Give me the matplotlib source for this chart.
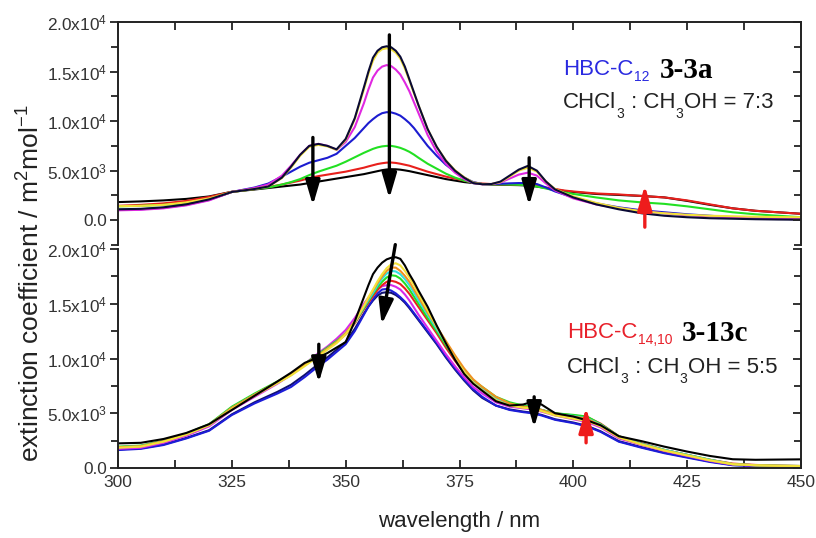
import matplotlib
matplotlib.use("Agg")
import matplotlib.pyplot as plt
from matplotlib.ticker import MultipleLocator, FuncFormatter
from matplotlib.text import Annotation

plt.rcParams['font.family'] = ['Liberation Sans', 'DejaVu Sans']
plt.rcParams['mathtext.fontset'] = 'custom'
plt.rcParams['mathtext.rm'] = 'Liberation Sans'
plt.rcParams['mathtext.it'] = 'Liberation Sans:italic'
plt.rcParams['mathtext.bf'] = 'Liberation Sans:bold'

# ---------------- top panel data (HBC-C12, 3-3a, CHCl3:CH3OH 7:3) ----------------
wl_top = [300, 305, 310, 315, 320, 325, 330, 333, 336, 338, 340, 342, 344, 346, 348, 350, 352,
          354, 355, 356, 357, 358, 359, 360, 361, 362, 363, 364, 365, 366,
          368, 370, 372, 374, 376, 378, 380, 382, 384, 386, 388, 390, 392, 394, 396, 398, 400,
          405, 410, 415, 420, 425, 430, 435, 440, 445, 450]
top_black_final = [1830, 1900, 2000, 2150, 2400, 2870, 3100, 3250, 3400, 3500, 3600, 3750, 3900, 4050, 4200, 4350, 4500,
                   4650, 4750, 4850, 4950, 5050, 5120, 5150, 5140, 5100, 5030, 4950, 4850, 4750,
                   4550, 4350, 4150, 4000, 3850, 3750, 3650, 3600, 3580, 3560, 3540, 3500, 3400, 3250, 3100, 2950, 2850,
                   2650, 2550, 2450, 2300, 1950, 1550, 1200, 950, 800, 650]
top_red = [1450, 1550, 1700, 1950, 2350, 2870, 3150, 3350, 3600, 3800, 4000, 4250, 4450, 4600, 4750, 4900, 5100,
           5300, 5430, 5550, 5670, 5750, 5810, 5820, 5780, 5700, 5600, 5500, 5350, 5200,
           4900, 4650, 4400, 4200, 4000, 3800, 3700, 3650, 3620, 3600, 3580, 3560, 3450, 3300, 3150, 3000, 2900,
           2700, 2600, 2450, 2300, 2000, 1600, 1200, 950, 800, 650]
top_green = [1400, 1450, 1550, 1700, 2100, 2850, 3150, 3300, 3600, 3850, 4150, 4550, 4900, 5200, 5500, 5900, 6350,
             6800, 7000, 7200, 7350, 7450, 7500, 7500, 7420, 7300, 7120, 6900, 6620, 6300,
             5700, 5200, 4700, 4300, 4000, 3780, 3650, 3630, 3620, 3600, 3580, 3550, 3400, 3200, 3000, 2800, 2650,
             2300, 2000, 1800, 1650, 1400, 1100, 800, 600, 450, 300]
top_blue = [1050, 1100, 1250, 1550, 2050, 2850, 3300, 3700, 4400, 4900, 5400, 5800, 6050, 6300, 6700, 7500, 8300,
            9300, 9800, 10200, 10550, 10800, 10900, 10880, 10750, 10550, 10200, 9800, 9300, 8700,
            7500, 6500, 5600, 4900, 4300, 3850, 3650, 3650, 3680, 3720, 3750, 3750, 3650, 3300, 2900, 2600, 2300,
            1700, 1300, 1000, 800, 600, 450, 300, 200, 150, 100]
top_magenta = [1000, 1050, 1200, 1500, 2000, 2850, 3250, 3600, 4500, 5500, 6600, 7500, 7700, 7500, 7100, 7900, 9400,
               11800, 13200, 14400, 15100, 15500, 15650, 15550, 15200, 14700, 13900, 13000, 11900, 10800,
               8600, 6900, 5700, 4800, 4150, 3750, 3630, 3650, 3800, 4200, 4600, 4800, 4500, 3700, 3000, 2600, 2200,
               1600, 1200, 900, 700, 500, 400, 300, 200, 150, 100]
top_yellow = [1420, 1450, 1550, 1800, 2200, 2850, 3150, 3400, 4250, 5300, 6500, 7400, 7600, 7450, 7100, 8100, 10200,
              13200, 14800, 16100, 16900, 17250, 17350, 17250, 16900, 16300, 15300, 14100, 12800, 11600,
              9200, 7400, 6050, 5050, 4350, 3800, 3650, 3650, 3850, 4400, 5000, 5300, 4900, 3900, 3150, 2750, 2400,
              1750, 1250, 900, 700, 550, 450, 400, 350, 320, 300]
top_black_initial = [1100, 1150, 1300, 1600, 2100, 2850, 3150, 3400, 4300, 5400, 6600, 7500, 7700, 7500, 7150, 8200, 10300,
                     13400, 15000, 16400, 17100, 17450, 17550, 17450, 17100, 16500, 15500, 14200, 12900, 11600,
                     9200, 7400, 6000, 5000, 4300, 3750, 3630, 3650, 3900, 4500, 5100, 5480, 5000, 3900, 3100, 2700, 2300,
                     1600, 1100, 700, 450, 300, 200, 150, 100, 70, 50]

# ---------------- bottom panel data (HBC-C14,10, 3-13c, CHCl3:CH3OH 5:5) ----------------
wl_bot = [300, 305, 310, 315, 320, 325, 330, 335, 338, 341, 344, 346, 348, 350, 352,
          354, 355, 356, 357, 358, 359, 360, 361, 362, 363, 364, 365, 366,
          368, 370, 372, 374, 376, 378, 380, 383, 386, 389, 391, 393, 396, 400, 403, 406, 410,
          415, 420, 425, 430, 435, 440, 445, 450]
bot_navy = [1700, 1800, 2150, 2750, 3450, 4900, 6000, 6950, 7600, 8500, 9500, 10100, 10800, 11500, 12700,
            14100, 14750, 15300, 15750, 16000, 16050, 16000, 15800, 15500, 15100, 14600, 14050, 13500,
            12400, 11300, 10100, 9000, 8000, 7100, 6400, 5700, 5350, 5150, 5050, 4850, 4450, 4150, 3850, 3350, 2450,
            1900, 1400, 1000, 600, 280, 200, 170, 160]
bot_blue = [1640, 1750, 2100, 2700, 3400, 4840, 5900, 6800, 7400, 8300, 9300, 9900, 10600, 11300, 12500,
            14000, 14750, 15400, 15950, 16300, 16350, 16200, 15950, 15600, 15200, 14700, 14150, 13600,
            12500, 11400, 10200, 9100, 8100, 7200, 6500, 5700, 5300, 5100, 5000, 4800, 4400, 4100, 3800, 3300, 2400,
            1850, 1350, 950, 550, 250, 180, 160, 150]
bot_magenta = [1750, 1850, 2300, 2950, 3800, 5300, 6500, 7700, 8500, 9500, 10500, 11100, 11800, 12600, 13700,
               15000, 15550, 16000, 16350, 16600, 16700, 16700, 16550, 16300, 15850, 15300, 14650, 14000,
               12800, 11600, 10400, 9300, 8300, 7400, 6800, 6000, 5600, 5450, 5350, 5150, 4800, 4450, 4200, 3700, 2700,
               2100, 1550, 1100, 650, 300, 220, 190, 170]
bot_red = [1900, 2000, 2450, 3100, 3950, 5500, 6700, 7850, 8550, 9450, 10300, 10900, 11500, 12200, 13200,
           14500, 15100, 15700, 16250, 16700, 17000, 17100, 17000, 16800, 16400, 15900, 15300, 14700,
           13500, 12300, 11000, 9800, 8700, 7800, 7200, 6300, 5800, 5600, 5500, 5300, 5000, 4800, 4650, 4050, 2900,
           2250, 1650, 1200, 750, 400, 280, 220, 180]
bot_green = [1950, 2050, 2500, 3150, 4000, 5600, 6800, 7900, 8600, 9500, 10400, 11000, 11600, 12300, 13300,
             14600, 15250, 15900, 16500, 17000, 17400, 17600, 17550, 17300, 16850, 16300, 15650, 15000,
             13700, 12500, 11200, 10000, 8900, 8000, 7400, 6500, 6000, 5700, 5550, 5300, 5000, 4850, 4700, 4000, 2900,
             2200, 1650, 1200, 750, 350, 250, 200, 180]
bot_cyan = [1900, 2000, 2450, 3100, 3950, 5500, 6700, 7800, 8500, 9400, 10300, 10900, 11500, 12300, 13300,
            14700, 15350, 16000, 16700, 17300, 17750, 18000, 17950, 17700, 17250, 16700, 16000, 15300,
            14000, 12700, 11400, 10100, 8900, 7900, 7200, 6300, 5800, 5600, 5500, 5300, 4950, 4750, 4550, 3950, 2850,
            2200, 1650, 1200, 750, 350, 250, 200, 180]
bot_orange = [1900, 2000, 2450, 3100, 3950, 5500, 6700, 7850, 8550, 9450, 10300, 10900, 11500, 12300, 13400,
              14800, 15500, 16200, 16900, 17500, 18000, 18300, 18300, 18000, 17550, 17000, 16300, 15600,
              14200, 12900, 11600, 10300, 9100, 8100, 7400, 6500, 5900, 5600, 5500, 5300, 4900, 4700, 4500, 3900, 2800,
              2150, 1600, 1150, 700, 350, 250, 200, 180]
bot_yellow = [1850, 1950, 2400, 3050, 3900, 5400, 6600, 7750, 8450, 9300, 10200, 10800, 11400, 12200, 13300,
              14800, 15600, 16300, 17050, 17700, 18250, 18600, 18700, 18500, 18000, 17400, 16700, 15900,
              14400, 12900, 11400, 10000, 8800, 7800, 7100, 6200, 5700, 5500, 5450, 5200, 4800, 4500, 4300, 3800, 2800,
              2150, 1600, 1150, 700, 350, 250, 200, 180]
bot_black = [2250, 2300, 2650, 3200, 4000, 5300, 6600, 7900, 8700, 9600, 10100, 10500, 11000, 11500, 13400,
             15600, 16700, 17700, 18300, 18750, 19050, 19200, 19250, 19100, 18500, 17700, 17000, 16200,
             14730, 13000, 11400, 9900, 8600, 7700, 7050, 6100, 5700, 5800, 6050, 5800, 5000, 4700, 4350, 3900, 2900,
             2450, 1950, 1500, 1100, 800, 750, 770, 790]

top_series = [
    (top_black_final, '#000000'),
    (top_red, '#e8201c'),
    (top_green, '#22e022'),
    (top_blue, '#1c1cd0'),
    (top_magenta, '#e028e0'),
    (top_yellow, '#f2e23a'),
    (top_black_initial, '#0a0a35'),
]
bot_series = [
    (bot_navy, '#101070'),
    (bot_blue, '#1c1cd8'),
    (bot_magenta, '#d828e8'),
    (bot_red, '#e8201c'),
    (bot_green, '#22e022'),
    (bot_cyan, '#30e0e0'),
    (bot_orange, '#f09020'),
    (bot_yellow, '#f2e23a'),
    (bot_black, '#000000'),
]

# arrows: (x_start, y_start, x_end, y_end, color)
top_arrows = [(342.8, 8350, 342.8, 1500, 'k'), (359.6, 18700, 359.6, 2200, 'k'),
              (390.3, 6300, 390.3, 1500, 'k'), (415.7, -700, 415.7, 3500, '#ee1c1c')]
bot_arrows = [(344.1, 11300, 344.1, 7800, 'k'), (360.9, 20400, 357.9, 13100, 'k'),
              (391.4, 6500, 391.4, 3700, 'k'), (402.8, 2300, 402.8, 5500, '#ee1c1c')]

W, H = 816, 538
fig = plt.figure(figsize=(W / 100, H / 100), dpi=100)
ax1 = fig.add_axes([118 / W, 1 - 245 / H, 683 / W, 223 / H])
ax2 = fig.add_axes([118 / W, 1 - 468 / H, 683 / W, 219 / H])


def ylab(v, pos):
    if abs(v) < 1e-9:
        return '0.0'
    if v < 0:
        return ''
    e = 0
    m = v
    while m >= 10:
        m /= 10.0
        e += 1
    return '%.1fx10$^{%d}$' % (m, e)


for ax in (ax1, ax2):
    ax.set_xlim(300, 450)
    ax.xaxis.set_major_locator(MultipleLocator(25))
    ax.xaxis.set_minor_locator(MultipleLocator(12.5))
    ax.yaxis.set_major_locator(MultipleLocator(5000))
    ax.yaxis.set_minor_locator(MultipleLocator(2500))
    ax.yaxis.set_major_formatter(FuncFormatter(ylab))
    for s in ax.spines.values():
        s.set_linewidth(1.4)
        s.set_color('#222222')
    ax.tick_params(axis='y', which='both', direction='out', left=True, right=False,
                   labelsize=12.4, labelcolor='#333333', width=1.3, color='#222222', pad=2)
    ax.tick_params(axis='y', which='major', length=6)
    ax.tick_params(axis='y', which='minor', length=5)

ax1.set_ylim(-2500, 20000)
ax2.set_ylim(0, 20000)
ax1.spines['bottom'].set_visible(False)
ax2.spines['top'].set_visible(False)
ax1.tick_params(axis='x', which='both', direction='in', top=True, bottom=False,
                labelbottom=False, labeltop=False, length=6, width=1.3, color='#222222')
ax2.tick_params(axis='x', which='both', direction='in', top=False, bottom=True,
                labelsize=12.5, labelcolor='#333333', length=6, width=1.3, color='#222222', pad=5)

# right side ticks (inward) via twin axes
for ax in (ax1, ax2):
    axr = ax.twinx()
    axr.set_ylim(ax.get_ylim())
    axr.yaxis.set_major_locator(MultipleLocator(5000))
    axr.yaxis.set_minor_locator(MultipleLocator(2500))
    axr.tick_params(axis='y', which='both', direction='in', labelright=False,
                    width=1.3, color='#222222')
    axr.tick_params(axis='y', which='major', length=6)
    axr.tick_params(axis='y', which='minor', length=5)
    for s in axr.spines.values():
        s.set_visible(False)

for vals, c in top_series:
    ax1.plot(wl_top, vals, color=c, lw=1.5, solid_joinstyle='round')
for vals, c in bot_series:
    ax2.plot(wl_bot, vals, color=c, lw=1.5, solid_joinstyle='round')

for ax, arrows in ((ax1, top_arrows), (ax2, bot_arrows)):
    for x0, y0, x1, y1, c in arrows:
        ax.annotate('', xy=(x1, y1), xytext=(x0, y0), annotation_clip=False,
                    arrowprops=dict(arrowstyle='-|>,head_length=0.75,head_width=0.22',
                                    color=c, lw=2.4, mutation_scale=20,
                                    shrinkA=0, shrinkB=0), zorder=10)


def chain(px, py, pieces, color):
    """pieces: list of (text, fontsize, dy_points); first piece placed at pixel (px, py) baseline."""
    first = fig.text(px / W, 1 - py / H, pieces[0][0], fontsize=pieces[0][1], color=color,
                     ha='left', va='baseline', zorder=20)
    prev = first
    for txt, fs, dy in pieces[1:]:
        a = Annotation(txt, xy=(1, 0), xycoords=(prev, first), xytext=(0.3, dy),
                       textcoords='offset points', fontsize=fs, color=color,
                       ha='left', va='bottom', annotation_clip=False, zorder=20)
        fig.add_artist(a)
        prev = a
    return first


chain(563, 75, [('HBC-C', 16, 0), ('12', 10, -3)], '#2a2ae0')
chain(563, 108, [('CHCl', 16, 0), ('3', 10, -5.5), (' : CH', 16, 0), ('3', 10, -5.5),
                 ('OH = 7:3', 16, 0)], '#222222')
chain(567, 338, [('HBC-C', 16, 0), ('14,10', 10, -3)], '#e8202a')
chain(567, 373, [('CHCl', 16, 0), ('3', 10, -5.5), (' : CH', 16, 0), ('3', 10, -5.5),
                 ('OH = 5:5', 16, 0)], '#222222')
fig.text(660 / W, 1 - 78 / H, '3-3a', family='Liberation Serif', fontweight='bold',
         fontsize=21, va='baseline', ha='left', color='black', zorder=20)
fig.text(682 / W, 1 - 341 / H, '3-13c', family='Liberation Serif', fontweight='bold',
         fontsize=21, va='baseline', ha='left', color='black', zorder=20)

fig.text(31 / W, 1 - 283 / H, 'extinction coefficient / m$^2$mol$^{-1}$', rotation=90,
         fontsize=19, va='center', ha='center', color='#222222')
fig.text(459 / W, 1 - 522 / H, 'wavelength / nm', fontsize=16, va='center', ha='center',
         color='#222222')

fig.savefig('out.png', dpi=100)
